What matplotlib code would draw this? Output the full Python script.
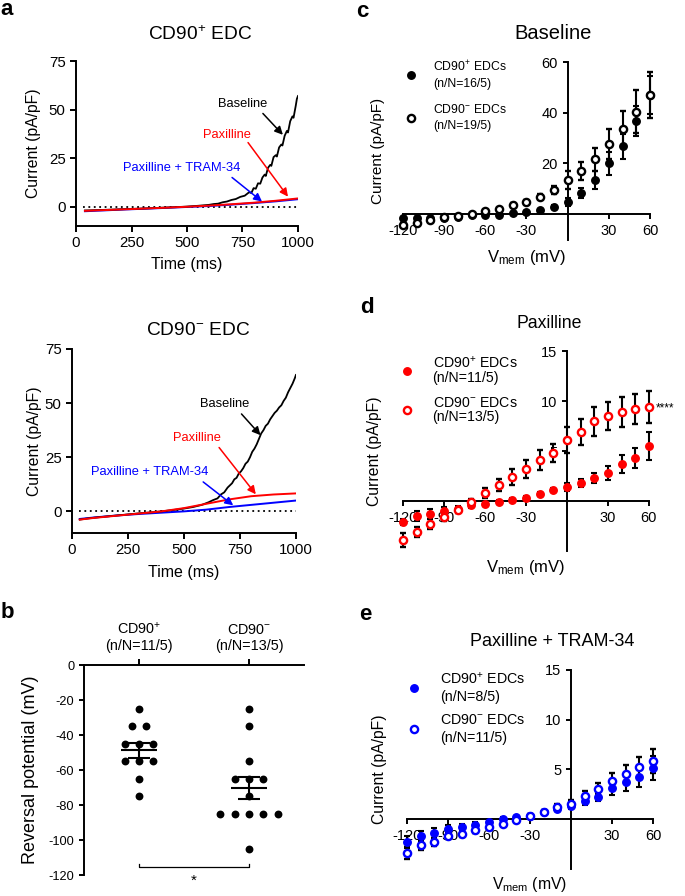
import numpy as np
import matplotlib
matplotlib.use("Agg")
import matplotlib.pyplot as plt

plt.rcParams['font.family'] = ['Liberation Sans', 'DejaVu Sans']
plt.rcParams['mathtext.default'] = 'regular'
plt.rcParams['axes.unicode_minus'] = False
plt.rcParams['axes.linewidth'] = 1.4
plt.rcParams['xtick.major.width'] = 1.4
plt.rcParams['ytick.major.width'] = 1.4
plt.rcParams['xtick.major.size'] = 3.5
plt.rcParams['ytick.major.size'] = 3.5

RED = '#FF0000'
BLUE = '#0000FF'

# ---------------- Panel a data (traces) ----------------
a1_base_t = [40, 100, 150, 200, 250, 300, 350, 400, 450, 500, 550, 600, 620, 640, 660, 680, 700, 720,
             740, 760, 780, 790, 800, 810, 820, 830, 840, 850, 855, 865, 875, 880, 890, 900, 905, 915,
             925, 930, 940, 950, 955, 965, 975, 980, 990, 995, 1000]
a1_base_y = [-2.0, -1.8, -1.6, -1.4, -1.2, -1.0, -0.8, -0.5, -0.3, 0.0, 0.4, 0.9, 1.3, 1.5, 2.2, 2.6, 3.4, 3.9,
             5.0, 5.6, 7.4, 7.0, 9.5, 9.2, 12.0, 11.8, 15.0, 16.5, 15.8, 20.0, 21.5, 21.0, 25.5, 26.5, 25.8, 30.5,
             32.0, 31.5, 36.5, 39.0, 38.2, 44.0, 46.5, 45.8, 52.0, 55.5, 57.0]
a1_pax_t = [40, 200, 400, 500, 600, 700, 800, 900, 1000]
a1_pax_y = [-2.2, -1.5, -0.6, -0.1, 0.5, 1.2, 2.0, 3.0, 4.2]
a1_tram_t = [40, 200, 400, 500, 600, 700, 800, 900, 1000]
a1_tram_y = [-2.4, -1.6, -0.7, -0.2, 0.3, 1.0, 1.8, 2.7, 3.8]

a2_base_t = [35, 60, 100, 150, 200, 250, 300, 350, 400, 450, 500, 540, 580, 610, 630, 650, 665, 680, 695,
             705, 715, 725, 735, 745, 755, 765, 775, 785, 795, 805, 815, 825, 835, 845, 855, 865, 875,
             885, 895, 905, 915, 925, 935, 945, 955, 965, 975, 985, 995, 1000]
a2_base_y = [-3.8, -3.4, -2.9, -2.4, -1.9, -1.4, -0.9, -0.5, 0.0, 0.6, 1.3, 2.0, 3.0, 4.2, 5.2, 6.0, 7.8, 8.8, 11.0,
             12.0, 13.0, 14.8, 15.5, 17.5, 18.5, 20.0, 22.0, 23.0, 25.0, 27.5, 29.0, 31.0, 33.5, 36.0, 37.5, 39.5, 40.5,
             42.5, 44.0, 45.5, 46.5, 48.0, 49.0, 51.0, 52.5, 55.0, 57.0, 59.0, 61.5, 63.0]
a2_pax_t = [35, 100, 200, 300, 400, 500, 600, 700, 800, 900, 1000]
a2_pax_y = [-3.8, -3.0, -2.0, -1.0, 0.0, 1.5, 3.5, 5.5, 7.0, 7.8, 8.3]
a2_tram_t = [35, 100, 200, 300, 400, 500, 600, 700, 800, 900, 1000]
a2_tram_y = [-3.5, -2.8, -1.9, -1.2, -0.6, 0.0, 0.8, 2.0, 3.0, 4.0, 5.0]

# ---------------- Panel b data ----------------
b_categories = ["CD90$^{+}$\n(n/N=11/5)", "CD90$^{-}$\n(n/N=13/5)"]
b_pos = [-25, -35, -35, -45, -45, -45, -55, -55, -55, -65, -75]
b_neg = [-25, -35, -55, -65, -65, -65, -75, -85, -85, -85, -85, -85, -105]

# ---------------- Panels c-e data ----------------
V = [-120, -110, -100, -90, -80, -70, -60, -50, -40, -30, -20, -10, 0, 10, 20, 30, 40, 50, 60]
vticks = [-120, -90, -60, -30, 30, 60]

c_pos = [-1.7, -1.7, -1.5, -1.5, -1.0, -0.4, -0.4, -0.4, 0.3, 0.9, 1.6, 2.9, 4.9, 8.4, 13.4, 20.0, 26.8, 36.8, 47.0]
c_pos_err = [0.5, 0.5, 0.5, 0.5, 0.4, 0.4, 0.4, 0.4, 0.5, 0.5, 0.6, 0.8, 1.5, 2.0, 3.5, 4.5, 5.0, 6.0, 7.5]
c_neg = [-4.3, -3.4, -2.4, -1.3, -0.8, 0.0, 1.2, 2.0, 3.6, 4.9, 6.8, 9.5, 13.4, 17.1, 21.7, 27.6, 33.7, 40.4, 47.0]
c_neg_err = [0.8, 0.7, 0.6, 0.5, 0.5, 0.5, 0.5, 0.6, 0.7, 0.8, 1.0, 1.5, 3.5, 3.5, 4.5, 6.0, 7.0, 8.5, 9.0]

d_pos = [-2.1, -1.5, -1.3, -1.0, -0.8, -0.4, -0.3, -0.1, 0.1, 0.3, 0.7, 1.1, 1.4, 1.8, 2.3, 2.8, 3.7, 4.3, 5.5]
d_pos_err = [0.3, 0.5, 0.5, 0.4, 0.3, 0.3, 0.2, 0.2, 0.2, 0.2, 0.2, 0.2, 0.4, 0.4, 0.5, 0.7, 0.9, 1.0, 1.4]
d_neg = [-3.9, -3.1, -2.3, -1.6, -0.9, -0.1, 0.8, 1.6, 2.4, 3.2, 4.1, 4.8, 6.1, 6.9, 8.0, 8.5, 8.9, 9.2, 9.4]
d_neg_err = [0.7, 0.5, 0.5, 0.4, 0.3, 0.3, 0.5, 0.6, 0.8, 0.9, 1.0, 0.9, 1.3, 1.3, 1.45, 1.4, 1.5, 1.5, 1.6]

e_pos = [-2.3, -1.75, -1.4, -1.0, -0.8, -0.6, -0.35, -0.05, 0.15, 0.3, 0.7, 1.0, 1.3, 1.8, 2.2, 3.1, 3.7, 4.2, 5.1]
e_pos_err = [0.6, 0.5, 0.5, 0.4, 0.3, 0.3, 0.2, 0.2, 0.2, 0.2, 0.2, 0.2, 0.3, 0.4, 0.4, 0.7, 0.9, 1.0, 1.2]
e_neg = [-3.4, -2.6, -2.3, -1.75, -1.5, -1.15, -0.8, -0.5, -0.15, 0.3, 0.7, 1.2, 1.5, 2.3, 3.0, 3.8, 4.5, 5.2, 5.8]
e_neg_err = [0.6, 0.5, 0.4, 0.3, 0.3, 0.3, 0.3, 0.2, 0.2, 0.2, 0.2, 0.3, 0.4, 0.5, 0.6, 0.8, 0.9, 1.0, 1.2]

fig = plt.figure(figsize=(6.85, 8.96), dpi=100)


def style_trace_ax(ax):
    ax.spines['top'].set_visible(False)
    ax.spines['right'].set_visible(False)
    ax.set_xlim(0, 1000)
    ax.set_ylim(-10, 75)
    ax.set_xticks([0, 250, 500, 750, 1000])
    ax.set_yticks([0, 25, 50, 75])
    ax.tick_params(labelsize=10.8, length=4)
    ax.plot([30, 1000], [0, 0], color='black', lw=1.3, linestyle=(0, (1, 2)))


def trace_panel(ax, title, title_xy, base, pax, tram, ann, ylab_x, xlab_y):
    style_trace_ax(ax)
    ax.plot(tram[0], tram[1], color=BLUE, lw=1.4)
    ax.plot(base[0], base[1], color='black', lw=1.3)
    ax.plot(pax[0], pax[1], color=RED, lw=1.4)
    ax.text(title_xy[0], title_xy[1], title, transform=ax.transAxes, ha='center', va='center', fontsize=13.8)
    ax.set_ylabel('Current (pA/pF)', fontsize=11.3)
    ax.yaxis.label.set_va('center')
    ax.yaxis.set_label_coords(ylab_x, 0.5)
    ax.set_xlabel('Time (ms)', fontsize=11.5)
    ax.xaxis.label.set_va('center')
    ax.xaxis.set_label_coords(0.5, xlab_y)
    for (txt, col, txy, a0, a1) in ann:
        ax.text(txy[0], txy[1], txt, color=col, fontsize=9.3, ha='center', va='center')
        ax.annotate('', xy=a1, xytext=a0,
                    arrowprops=dict(arrowstyle='-|>', color=col, lw=1.1, mutation_scale=12,
                                    shrinkA=0, shrinkB=0))


ax_a1 = fig.add_axes([0.111, 0.7478, 0.324, 0.184])
trace_panel(ax_a1, 'CD90$^{+}$ EDC', (0.559, 1.158),
            (a1_base_t, a1_base_y), (a1_pax_t, a1_pax_y), (a1_tram_t, a1_tram_y),
            [('Baseline', 'black', (752, 52.8), (842, 48), (932, 37)),
             ('Paxilline', RED, (680, 37), (775, 33), (955, 5.1)),
             ('Paxilline + TRAM-34', BLUE, (477, 20), (703, 15), (838, 2.6))],
            -0.19, -0.236)

ax_a2 = fig.add_axes([0.105, 0.4051, 0.327, 0.2054])
trace_panel(ax_a2, 'CD90$^{-}$ EDC', (0.5625, 1.103),
            (a2_base_t, a2_base_y), (a2_pax_t, a2_pax_y), (a2_tram_t, a2_tram_y),
            [('Baseline', 'black', (683, 49.5), (757, 45), (842, 35.2)),
             ('Paxilline', RED, (557, 34), (657, 29.5), (821, 7.9)),
             ('Paxilline + TRAM-34', BLUE, (348, 18.2), (586, 13.6), (720, 2.8))],
            -0.165, -0.212)

# ---------------- Panel b ----------------
ax_b = fig.add_axes([0.1226, 0.0234, 0.3212, 0.2344])
ax_b.spines['bottom'].set_visible(False)
ax_b.spines['right'].set_visible(False)
ax_b.xaxis.tick_top()
ax_b.set_xlim(-0.5, 1.5)
ax_b.set_ylim(-120, 0)
ax_b.set_yticks([0, -20, -40, -60, -80, -100, -120])
ax_b.set_xticks([0, 1])
ax_b.set_xticklabels(b_categories, fontsize=10.4, linespacing=1.15)
ax_b.tick_params(axis='y', labelsize=9.2, length=3.5)
ax_b.tick_params(axis='x', length=4, pad=5)


def swarm_offsets(vals, step=0.13):
    vals = np.asarray(vals, dtype=float)
    off = np.zeros(len(vals))
    for v in np.unique(vals):
        idx = np.where(vals == v)[0]
        n = len(idx)
        off[idx] = (np.arange(n) - (n - 1) / 2.0) * step
    return off


for i, vals in enumerate([b_pos, b_neg]):
    vals = np.asarray(vals, dtype=float)
    ax_b.scatter(i + swarm_offsets(vals), vals, s=32, color='black', zorder=3, clip_on=False, linewidths=0)
    m = vals.mean()
    sem = vals.std(ddof=1) / np.sqrt(len(vals))
    ax_b.hlines(m, i - 0.16, i + 0.16, color='black', lw=1.5, zorder=4)
    ax_b.hlines([m - sem, m + sem], i - 0.1, i + 0.1, color='black', lw=1.5, zorder=4)
    ax_b.vlines(i, m - sem, m + sem, color='black', lw=1.5, zorder=4)

ax_b.plot([0, 0, 1, 1], [-113.8, -115.4, -115.4, -113.8], color='black', lw=0.9, clip_on=False)
ax_b.text(0.5, -123.5, '*', ha='center', va='center', fontsize=11)
ax_b.set_ylabel('Reversal potential (mV)', fontsize=13)
ax_b.yaxis.label.set_va('center')
ax_b.yaxis.set_label_coords(-0.245, 0.5)


# ---------------- Panels c-e ----------------
def iv_panel(ax, pos, pos_err, neg, neg_err, color, ylim, yticks, title, title_xy, title_fs,
             labels, leg_fs, leg_ls, leg_anchor, leg_spacing, ylab_x, ylab_fs, xlab_y, xlab_fs):
    ax.spines['top'].set_visible(False)
    ax.spines['right'].set_visible(False)
    ax.spines['left'].set_position(('data', 0))
    ax.spines['bottom'].set_position(('data', 0))
    ax.set_xlim(-120, 60)
    ax.set_ylim(*ylim)
    ax.set_xticks(vticks)
    ax.set_yticks(yticks)
    ax.tick_params(labelsize=10.5, length=3.5)
    eb1 = ax.errorbar(V, pos, yerr=pos_err, fmt='o', ms=5.4, color=color, mec=color, mfc=color,
                      ecolor='black', elinewidth=1.5, capsize=2.4, capthick=1.5, clip_on=False, zorder=3)
    eb2 = ax.errorbar(V, neg, yerr=neg_err, fmt='o', ms=5.2, color=color, mec=color, mfc='white', mew=1.7,
                      ecolor='black', elinewidth=1.5, capsize=2.4, capthick=1.5, clip_on=False, zorder=3)
    for eb in (eb1, eb2):
        for art in eb.lines[1] + eb.lines[2]:
            art.set_clip_on(False)
    ax.text(title_xy[0], title_xy[1], title, transform=ax.transAxes, ha='center', va='center',
            fontsize=title_fs)
    leg = ax.legend(handles=[eb1.lines[0], eb2.lines[0]], labels=labels, loc='upper left',
                    bbox_to_anchor=leg_anchor, frameon=False, fontsize=leg_fs, borderaxespad=0,
                    borderpad=0, handlelength=1.0, handletextpad=1.3, labelspacing=leg_spacing)
    for t in leg.get_texts():
        t.set_linespacing(leg_ls)
    ax.set_ylabel('Current (pA/pF)', fontsize=ylab_fs)
    ax.yaxis.label.set_va('center')
    ax.yaxis.set_label_coords(ylab_x, 0.5)
    ax.set_xlabel('V$_{mem}$ (mV)', fontsize=xlab_fs)
    ax.xaxis.label.set_va('center')
    ax.xaxis.set_label_coords(0.5, xlab_y)


ax_c = fig.add_axes([0.5883, 0.7327, 0.3606, 0.1981])
iv_panel(ax_c, c_pos, c_pos_err, c_neg, c_neg_err, 'black', (-10, 60), [20, 40, 60], 'Baseline',
         (0.607, 1.163), 14.5, ['CD90$^{+}$ EDCs\n(n/N=16/5)', 'CD90$^{-}$ EDCs\n(n/N=19/5)'],
         8.8, 1.45, (0.008, 1.015), 1.05, -0.101, 11, -0.104, 12)

ax_d = fig.add_axes([0.5883, 0.385, 0.359, 0.2232])
iv_panel(ax_d, d_pos, d_pos_err, d_neg, d_neg_err, RED, (-5, 15), [5, 10, 15], 'Paxilline',
         (0.593, 1.14), 12.7, ['CD90$^{+}$ EDCs\n(n/N=11/5)', 'CD90$^{-}$ EDCs\n(n/N=13/5)'],
         10.2, 1.0, (-0.012, 0.98), 0.75, -0.114, 11.3, -0.08, 12)
ax_d.text(V[-1] + 5, d_neg[-1] - 0.1, '****', fontsize=8.5, ha='left', va='center')

ax_e = fig.add_axes([0.5942, 0.0305, 0.359, 0.2218])
iv_panel(ax_e, e_pos, e_pos_err, e_neg, e_neg_err, BLUE, (-5, 15), [5, 10, 15], 'Paxilline + TRAM-34',
         (0.589, 1.141), 13, ['CD90$^{+}$ EDCs\n(n/N=8/5)', 'CD90$^{-}$ EDCs\n(n/N=11/5)'],
         10.3, 1.35, (0.0, 0.998), 0.6, -0.11, 11.3, -0.082, 11.3)

# panel letters
for letter, x, y in [('a', 7, 15), ('b', 7, 618), ('c', 362, 17), ('d', 367, 313), ('e', 365, 620)]:
    fig.text(x / 685, 1 - y / 896, letter, fontsize=16, fontweight='bold', ha='center', va='baseline')

fig.savefig('out.png', dpi=100)
